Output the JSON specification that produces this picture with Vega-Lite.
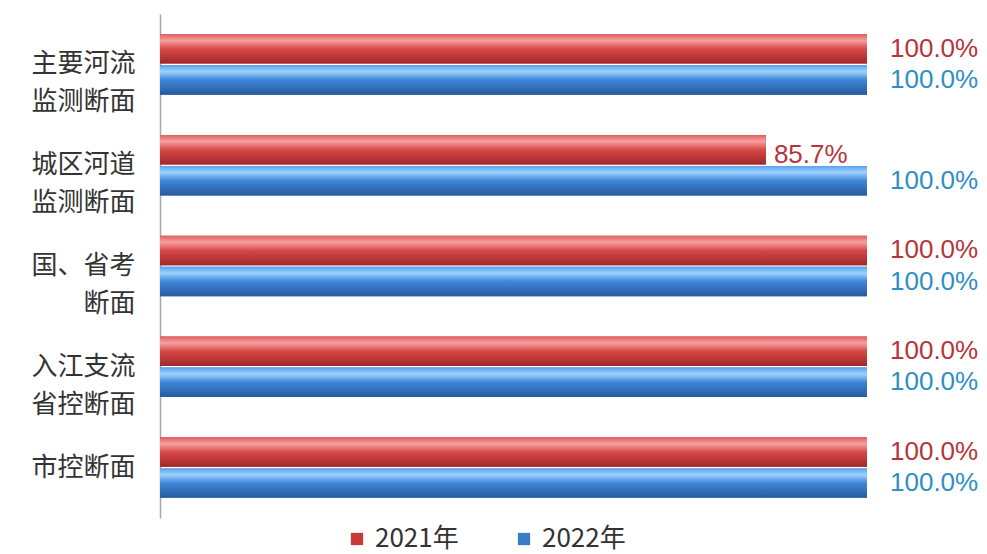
{
  "$schema": "https://vega.github.io/schema/vega-lite/v6.json",
  "autosize": {"type": "none"},
  "padding": {"left": 160, "top": 14, "right": 120, "bottom": 36},
  "width": 707,
  "height": 504,
  "background": "white",
  "config": {"view": {"stroke": null}},
  "data": {
    "values": [
      {"cat": "主要河流 监测断面", "year": "2021年", "value": 100.0},
      {"cat": "主要河流 监测断面", "year": "2022年", "value": 100.0},
      {"cat": "城区河道 监测断面", "year": "2021年", "value": 85.7},
      {"cat": "城区河道 监测断面", "year": "2022年", "value": 100.0},
      {"cat": "国、省考 断面", "year": "2021年", "value": 100.0},
      {"cat": "国、省考 断面", "year": "2022年", "value": 100.0},
      {"cat": "入江支流 省控断面", "year": "2021年", "value": 100.0},
      {"cat": "入江支流 省控断面", "year": "2022年", "value": 100.0},
      {"cat": "市控断面", "year": "2021年", "value": 100.0},
      {"cat": "市控断面", "year": "2022年", "value": 100.0}
    ]
  },
  "transform": [{"calculate": "format(datum.value, '.1f') + '%'", "as": "label"}],
  "encoding": {
    "y": {
      "field": "cat", "type": "nominal", "sort": null,
      "scale": {"paddingInner": 0.4, "paddingOuter": 0.2},
      "axis": {
        "title": null, "ticks": false, "grid": false,
        "domainColor": "#A8A8A8", "domainWidth": 1.5,
        "labelFont": "Noto Sans CJK SC", "labelFontSize": 26,
        "labelColor": "#333333", "labelPadding": 25,
        "labelLineHeight": 38, "labelAlign": "right", "labelBaseline": "middle",
        "labelExpr": "split(datum.label, ' ')", "labelLimit": 200
      }
    },
    "yOffset": {"field": "year", "type": "nominal", "scale": {"paddingInner": 0.05}},
    "x": {"field": "value", "type": "quantitative", "scale": {"domain": [0, 100], "nice": false}, "axis": null}
  },
  "layer": [
    {
      "mark": {"type": "bar"},
      "encoding": {
        "color": {
          "field": "year", "type": "nominal",
          "scale": {"domain": ["2021年", "2022年"], "range": ["#C83A3A", "#3A7CC8"]},
          "legend": {
            "title": null, "orient": "none", "direction": "horizontal",
            "legendX": 184, "legendY": 512,
            "symbolType": "square", "symbolSize": 150, "symbolStrokeWidth": 0,
            "labelFont": "Noto Sans CJK SC", "labelFontSize": 26, "labelColor": "#333333",
            "columnPadding": 52, "labelOffset": 5
          }
        }
      }
    },
    {
      "transform": [{"filter": "datum.year === '2021年'"}],
      "mark": {
        "type": "bar",
        "color": {
          "gradient": "linear", "x1": 0, "y1": 0, "x2": 0, "y2": 1,
          "stops": [
            {"offset": 0, "color": "#E06060"},
            {"offset": 0.22, "color": "#F7A0A0"},
            {"offset": 0.5, "color": "#D84848"},
            {"offset": 1, "color": "#A02828"}
          ]
        }
      }
    },
    {
      "transform": [{"filter": "datum.year === '2022年'"}],
      "mark": {
        "type": "bar",
        "color": {
          "gradient": "linear", "x1": 0, "y1": 0, "x2": 0, "y2": 1,
          "stops": [
            {"offset": 0, "color": "#5AA2EC"},
            {"offset": 0.22, "color": "#9CD2FF"},
            {"offset": 0.5, "color": "#3E86D8"},
            {"offset": 1, "color": "#285A9C"}
          ]
        }
      }
    },
    {
      "transform": [{"filter": "datum.value >= 100"}],
      "mark": {"type": "text", "align": "left", "baseline": "middle", "dx": 23, "font": "Liberation Sans", "fontSize": 26},
      "encoding": {
        "text": {"field": "label", "type": "nominal"},
        "color": {"condition": {"test": "datum.year === '2021年'", "value": "#B5353A"}, "value": "#2F8FC4"}
      }
    },
    {
      "transform": [{"filter": "datum.value < 100"}],
      "mark": {"type": "text", "align": "left", "baseline": "middle", "dx": 8, "dy": 5, "font": "Liberation Sans", "fontSize": 26},
      "encoding": {
        "text": {"field": "label", "type": "nominal"},
        "color": {"condition": {"test": "datum.year === '2021年'", "value": "#B5353A"}, "value": "#2F8FC4"}
      }
    }
  ]
}
